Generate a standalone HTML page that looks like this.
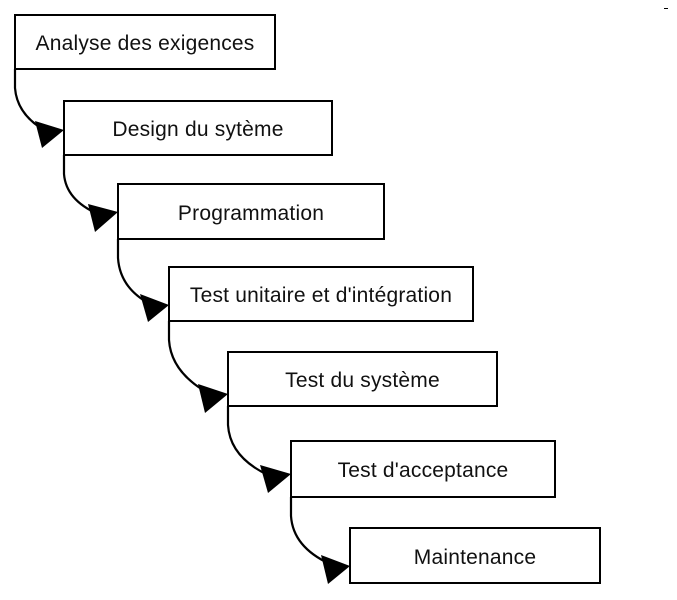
<!DOCTYPE html>
<html><head><meta charset="utf-8"><style>
html,body{margin:0;padding:0;background:#fff;}
body{width:677px;height:600px;position:relative;overflow:hidden;font-family:"Liberation Sans",Arial,sans-serif;}
.b{position:absolute;box-sizing:border-box;border:2.5px solid #000;background:#fff;display:flex;align-items:center;justify-content:center;font-size:21px;letter-spacing:0.2px;color:#111;white-space:nowrap;padding-top:4px;}
svg{position:absolute;left:0;top:0;}
</style></head><body>
<svg width="677" height="600">
<g fill="none" stroke="#000" stroke-width="2.2">
<path d="M15,69 L15,88 Q17,114 44,130"/>
<path d="M64,155 L64,174 Q66,200 98,214"/>
<path d="M118,239 L118,258 Q120,288 150,304"/>
<path d="M169,321 L169,340 Q171,372 208,393"/>
<path d="M228,406 L228,425 Q230,457 268,475"/>
<path d="M291,497 L291,516 Q293,547 330,564"/>
</g>
<g fill="#000">
<polygon points="35,121 64,130 42,148"/>
<polygon points="88,204 118,212 95,232"/>
<polygon points="140,294 169,305 148,322"/>
<polygon points="198,384 228,394 205,413"/>
<polygon points="260,465 291,474 268,493"/>
<polygon points="321,555 350,566 328,584"/>
</g>
<rect x="664" y="8" width="4" height="1" fill="#000"/>
</svg>
<div class="b" style="left:14px;top:14px;width:262px;height:56px;">Analyse des exigences</div>
<div class="b" style="left:63px;top:100px;width:270px;height:56px;">Design du sytème</div>
<div class="b" style="left:117px;top:183px;width:268px;height:57px;">Programmation</div>
<div class="b" style="left:168px;top:266px;width:306px;height:56px;">Test unitaire et d'intégration</div>
<div class="b" style="left:227px;top:351px;width:271px;height:56px;">Test du système</div>
<div class="b" style="left:290px;top:440px;width:266px;height:58px;">Test d'acceptance</div>
<div class="b" style="left:349px;top:527px;width:252px;height:57px;">Maintenance</div>
</body></html>
